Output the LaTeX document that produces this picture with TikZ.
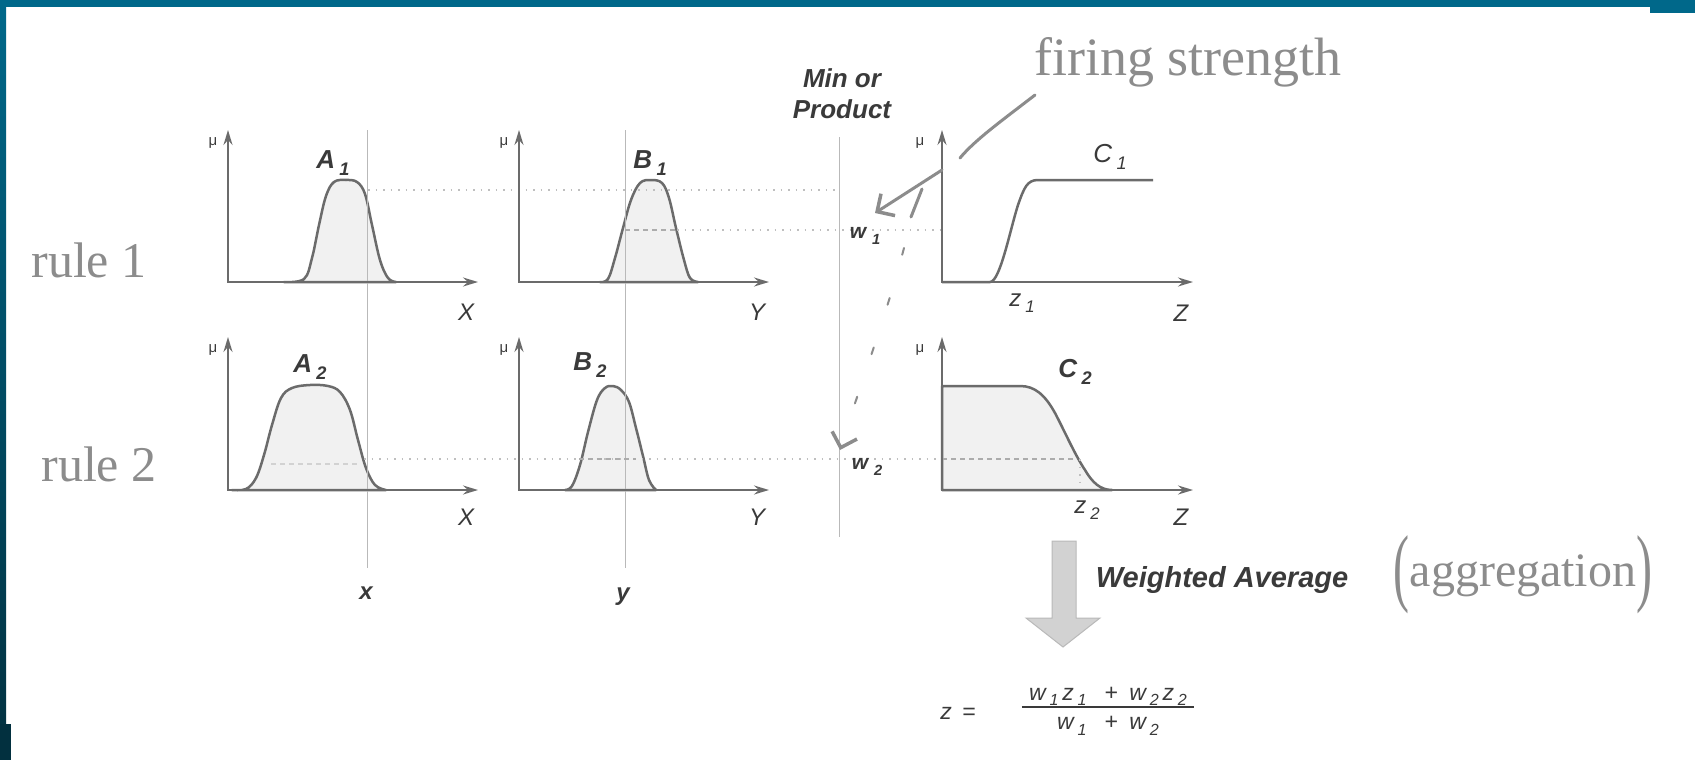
\documentclass[tikz,border=0pt]{standalone}
\usepackage{fontspec}
\setmainfont{Liberation Sans}
\newfontfamily\handfont{Liberation Serif}
\usepackage{tikz}
\usetikzlibrary{positioning}
\usetikzlibrary{arrows.meta,calc}

\definecolor{frameteal}{HTML}{00688A}
\definecolor{framedark}{HTML}{02303F}
\definecolor{inkgray}{HTML}{6B6B6B}
\definecolor{printgray}{HTML}{3A3A3A}
\definecolor{pencil}{HTML}{8C8C8C}
\definecolor{shade}{HTML}{F1F1F1}

% label with a small lowered index
\newcommand{\lbl}[2]{#1\,\raisebox{-0.25em}{\scalebox{0.7}{#2}}}
% tall handwritten bracket
\newcommand{\tallbr}[1]{\raisebox{-0.2em}{\scalebox{1}[1.8]{#1}}}

\begin{document}
\begin{tikzpicture}[x=1pt,y=-1pt,
  axis/.style={draw=inkgray,line width=2pt,
    {Stealth[length=15pt,width=9pt,inset=5pt]}-{Stealth[length=15pt,width=9pt,inset=5pt]}},
  mf/.style={draw=inkgray,line width=2.5pt,fill=shade,line join=round},
  guide/.style={draw=gray!55,line width=0.8pt},
  level/.style={draw=gray!50,line width=1.2pt,dash pattern=on 1.5pt off 6pt},
  cut/.style={draw=gray!65,line width=1.6pt,dash pattern=on 5pt off 4pt},
  hand/.style={draw=pencil,line width=3pt,line cap=round,line join=round},
  mu/.style={font=\fontsize{15}{15}\selectfont,text=printgray,inner sep=0pt},
  setname/.style={font=\fontsize{26}{28}\selectfont\bfseries\itshape,text=printgray,inner sep=0pt},
  axname/.style={font=\fontsize{24}{24}\selectfont\itshape,text=printgray,inner sep=0pt},
  wname/.style={font=\fontsize{21}{21}\selectfont\bfseries\itshape,text=printgray,inner sep=0pt},
  opname/.style={font=\fontsize{26}{31}\selectfont\bfseries\itshape,text=printgray,inner sep=0pt,align=center},
  formula/.style={font=\fontsize{23}{23}\selectfont\itshape,text=printgray,inner sep=1pt},
  note/.style={font=\handfont\fontsize{50}{50}\selectfont,text=pencil,inner sep=0pt}]

\useasboundingbox (0,0) rectangle (1695,760);
\fill[white] (0,0) rectangle (1695,760);

% slide frame
\fill[frameteal] (0,0) rectangle (1695,7);
\fill[frameteal] (1650,0) rectangle (1695,13);
\shade[top color=frameteal,bottom color=framedark] (0,0) rectangle (6,760);
\fill[framedark] (0,724) rectangle (11,760);

% panel origins
\coordinate (oA1) at (228,282);
\coordinate (oB1) at (519,282);
\coordinate (oC1) at (942,282);
\coordinate (oA2) at (228,490);
\coordinate (oB2) at (519,490);
\coordinate (oC2) at (942,490);

% membership functions
\draw[mf] plot[smooth,tension=0.6] coordinates {(284,282) (304,279) (312,258) (319,225) (326,196) (334,182) (346,180) (357,182) (365,194) (372,225) (380,260) (388,278) (396,282)} -- cycle;
\draw[mf] plot[smooth,tension=0.6] coordinates {(600,282) (608,279) (615,258) (623,228) (631,200) (640,183) (651,180) (662,183) (669,198) (676,228) (684,260) (690,278) (698,282)} -- cycle;
\draw[mf,fill=none] (oC1) -- (990,282) .. controls (1000,282) and (1010,230) .. (1018,205) .. controls (1024,188) and (1027,180) .. (1038,180) -- (1153,180);
\draw[mf] plot[smooth,tension=0.6] coordinates {(232,490) (246,489) (256,478) (264,455) (272,425) (281,398) (292,388) (310,385) (328,386) (340,392) (350,410) (358,440) (366,468) (375,485) (386,490)} -- cycle;
\draw[mf] plot[smooth,tension=0.6] coordinates {(565,490) (572,486) (580,465) (588,432) (597,400) (605,388) (613,386) (621,390) (629,402) (636,428) (643,456) (649,480) (656,490)} -- cycle;
\draw[mf] (oC2) -- (942,386) -- (1020,386) .. controls (1035,386) and (1045,395) .. (1055,413) .. controls (1065,432) and (1075,455) .. (1085,470) .. controls (1092,482) and (1100,490) .. (1112,490) -- cycle;

% crisp inputs and the min line
\coordinate (xTop) at (367,130);
\coordinate (xBot) at (367,568);
\coordinate (yTop) at (625,130);
\coordinate (yBot) at (625,568);
\coordinate (wTop) at (839,137);
\coordinate (wBot) at (839,537);
\draw[guide] (xTop) -- (xBot);
\draw[guide] (yTop) -- (yBot);
\draw[guide] (wTop) -- (wBot);

% membership degrees
\draw[level] (368,190) -- (839,190);
\draw[cut] (625,230) -- (677,230);
\draw[level] (677,230) -- (942,230);
\draw[cut,draw=gray!35] (271,464) -- (357,464);
\draw[level] (364,459) -- (942,459);
\draw[cut] (579,459) -- (636,459);
\draw[cut] (942,459) -- (1075,459);
\draw[level] (1080,459) -- (1080,490);

% axes
\draw[axis] ([yshift=152pt]oA1) -- (oA1) -- ([xshift=250pt]oA1);
\draw[axis] ([yshift=152pt]oB1) -- (oB1) -- ([xshift=250pt]oB1);
\draw[axis] ([yshift=152pt]oC1) -- (oC1) -- ([xshift=251pt]oC1);
\draw[axis] ([yshift=153pt]oA2) -- (oA2) -- ([xshift=250pt]oA2);
\draw[axis] ([yshift=153pt]oB2) -- (oB2) -- ([xshift=250pt]oB2);
\draw[axis] ([yshift=153pt]oC2) -- (oC2) -- ([xshift=251pt]oC2);

\node[mu] (muA1) at (213,143) {μ};
\node[mu] (muB1) at (504,143) {μ};
\node[mu] (muC1) at (920,143) {μ};
\node[mu] (muA2) at (213,350) {μ};
\node[mu] (muB2) at (504,350) {μ};
\node[mu] (muC2) at (920,350) {μ};

\node[setname] (A1) at (333,163) {\lbl{A}{1}};
\node[setname] (B1) at (650,163) {\lbl{B}{1}};
\node[setname,font=\fontsize{26}{28}\selectfont\itshape] (C1) at (1110,157) {\lbl{C}{1}};
\node[setname] (A2) at (310,367) {\lbl{A}{2}};
\node[setname] (B2) at (590,365) {\lbl{B}{2}};
\node[setname] (C2) at (1075,372) {\lbl{C}{2}};

\node[axname] (XA1) at (466,312) {X};
\node[axname] (YB1) at (757,312) {Y};
\node[axname] (ZC1) at (1181,313) {Z};
\node[axname] (XA2) at (466,517) {X};
\node[axname] (YB2) at (757,517) {Y};
\node[axname] (ZC2) at (1181,517) {Z};
\node[axname] (z1) at (1022,303) {\lbl{z}{1}};
\node[axname] (z2) at (1087,510) {\lbl{z}{2}};
\node[axname,font=\fontsize{24}{24}\selectfont\bfseries\itshape] (xin) at (366,593) {x};
\node[axname,font=\fontsize{24}{24}\selectfont\bfseries\itshape] (yin) at (623,597) {y};

\node[wname] (w1) at (865,236) {w\;\raisebox{-0.25em}{\scalebox{0.7}{1}}};
\node[wname] (w2) at (867,467) {w\;\raisebox{-0.25em}{\scalebox{0.7}{2}}};
\node[opname] (minprod) at (842,94) {Min or\\Product};

% defuzzification
\draw[fill=gray!35,draw=gray!55,line width=1pt] (1052,541) -- (1076,541) -- (1076,618) -- (1100,618) -- (1063,647) -- (1026,618) -- (1052,618) -- cycle;
\node[opname,font=\fontsize{29}{29}\selectfont\bfseries\itshape] (wavg) at (1222,580) {Weighted Average};
\node[formula] (zeq) at (958,713) {z \,=};
\node[formula,anchor=south] (num) at (1108,707) {\lbl{w}{1}\,\lbl{z}{1} \enspace+\enspace \lbl{w}{2}\,\lbl{z}{2}};
\node[formula,anchor=north] (den) at (1108,715) {\lbl{w}{1} \enspace+\enspace \lbl{w}{2}};
\draw[printgray,line width=1.2pt] ([xshift=-6pt]num.south west) -- ([xshift=6pt]num.south east);

% handwritten notes
\node[note] (rule1) at (89,260) {rule 1};
\node[note] (rule2) at (99,464) {rule 2};
\node[note,font=\handfont\fontsize{54}{54}\selectfont] (fstr) at (1188,62) {firing strength};
\node[note,font=\handfont\fontsize{48}{48}\selectfont] (aggr) at (1523,575) {\tallbr{(}aggregation\tallbr{)}};

\coordinate (fsTail) at (1035,95);
\coordinate (fsHit) at (960,158);
\coordinate (fsFrom) at (942,170);
\coordinate (w1Tip) at (875,213);
\coordinate (w2Tip) at (840,450);
\draw[hand] (fsTail) .. controls (1000,122) and (975,140) .. (fsHit);
\draw[hand,-{Straight Barb[length=13pt,width=26pt,line width=3.5pt]}] (fsFrom) -- (w1Tip);
\draw[hand] (922,189) -- (911,217);
\draw[hand,line width=2pt,dash pattern=on 7pt off 45pt,
  -{Straight Barb[length=13pt,width=26pt,line width=3.5pt]}] (904,248) .. controls (885,320) and (860,385) .. (w2Tip);
\end{tikzpicture}
\end{document}
